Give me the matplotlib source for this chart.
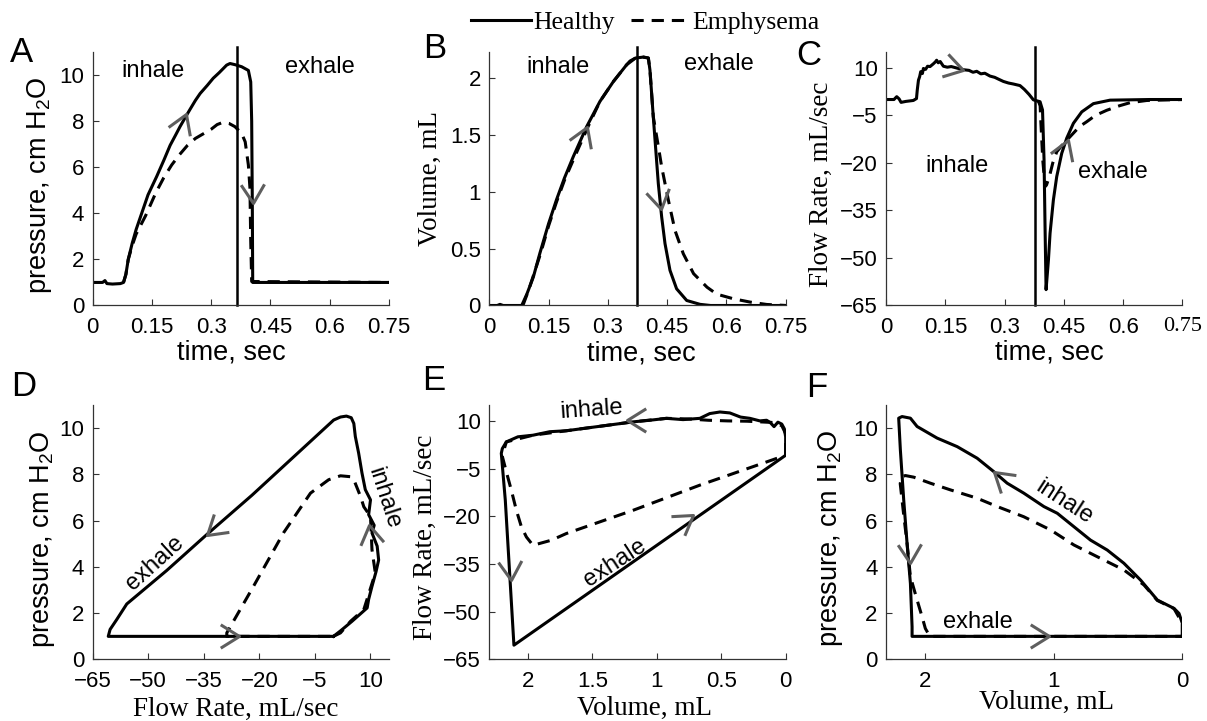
"""
    Figure : pression, volume et debit (sain / emphyseme), 6 panneaux A-F
"""

import matplotlib
matplotlib.use("Agg")
import matplotlib.pyplot as plt
from matplotlib.path import Path
from matplotlib.markers import MarkerStyle
from matplotlib.transforms import Affine2D

plt.rcParams['font.family'] = ['Liberation Sans', 'DejaVu Sans']
plt.rcParams['mathtext.fontset'] = 'custom'
plt.rcParams['mathtext.rm'] = 'Liberation Sans'
plt.rcParams['mathtext.it'] = 'Liberation Sans:italic'
plt.rcParams['mathtext.bf'] = 'Liberation Sans:bold'

SERIF = ['Liberation Serif', 'DejaVu Serif']
GRIS = '#5e5e5e'
AXE = '#333333'
LW = 2.2
TIRETS = (4, 2.6)

# ---------------- Donnees ----------------

# A : pression en fonction du temps
t_a_sain = [0, 0.025, 0.031, 0.036, 0.05, 0.07, 0.078, 0.084, 0.09, 0.10, 0.11, 0.124, 0.14, 0.162,
            0.18, 0.196, 0.21, 0.221, 0.234, 0.246, 0.26, 0.272, 0.29, 0.305, 0.32, 0.339, 0.3475,
            0.36, 0.377, 0.394, 0.40, 0.4024, 0.404, 0.405, 0.75]
p_a_sain = [1.0, 1.0, 1.08, 0.95, 0.93, 0.95, 1.0, 1.35, 2.0, 2.7, 3.3, 4.0, 4.8, 5.6,
            6.3, 6.95, 7.4, 7.76, 8.15, 8.5, 8.9, 9.2, 9.55, 9.86, 10.1, 10.43, 10.5,
            10.45, 10.36, 10.2, 9.7, 8.0, 4.4, 1.0, 1.0]
t_a_emph = [0.078, 0.084, 0.09, 0.10, 0.11, 0.134, 0.16, 0.18, 0.20, 0.22, 0.24, 0.26, 0.28,
            0.30, 0.315, 0.33, 0.345, 0.36, 0.377, 0.386, 0.394, 0.398, 0.400, 0.4024, 0.75]
p_a_emph = [1.0, 1.35, 2.0, 2.6, 3.1, 3.9, 4.9, 5.55, 6.1, 6.55, 6.95, 7.25, 7.45,
            7.65, 7.85, 7.95, 7.9, 7.76, 7.47, 7.1, 6.1, 5.1, 2.8, 1.04, 1.0]

# B : volume en fonction du temps
t_b_sain = [0, 0.02, 0.027, 0.035, 0.082, 0.095, 0.1114, 0.128, 0.15, 0.17, 0.19, 0.2126, 0.2465,
            0.28, 0.314, 0.3477, 0.356, 0.37, 0.39, 0.4025, 0.4066, 0.415, 0.4278, 0.4362, 0.4447,
            0.4573, 0.474, 0.4996, 0.5334, 0.56, 0.75]
v_b_sain = [0, 0, 0.01, 0, 0, 0.1, 0.25, 0.46, 0.72, 0.93, 1.12, 1.31, 1.574,
            1.795, 1.97, 2.118, 2.15, 2.177, 2.185, 2.177, 2.07, 1.66, 1.07, 0.78, 0.544,
            0.309, 0.147, 0.044, 0.01, 0, 0]
t_b_emph = [0.085, 0.1, 0.115, 0.13, 0.15, 0.17, 0.19, 0.215, 0.25, 0.28, 0.314, 0.3477, 0.37,
            0.39, 0.4025, 0.4066, 0.415, 0.4278, 0.4362, 0.453, 0.47, 0.491, 0.517, 0.551,
            0.5755, 0.6177, 0.66, 0.702, 0.75]
v_b_emph = [0, 0.14, 0.3, 0.46, 0.7, 0.91, 1.1, 1.3, 1.574, 1.795, 1.97, 2.118, 2.177,
            2.185, 2.177, 2.07, 1.66, 1.4, 1.22, 0.93, 0.66, 0.455, 0.28, 0.161,
            0.1, 0.059, 0.03, 0.009, 0]

# C : debit en fonction du temps
t_c_sain = [0, 0.02, 0.027, 0.033, 0.038, 0.05, 0.069, 0.077, 0.079, 0.082, 0.085, 0.0877, 0.092,
            0.0945, 0.10, 0.105, 0.1114, 0.12, 0.125, 0.128, 0.132, 0.137, 0.1451, 0.155, 0.165,
            0.18, 0.196, 0.21, 0.22, 0.2295, 0.24, 0.25, 0.263, 0.275, 0.285, 0.297, 0.31, 0.322,
            0.339, 0.35, 0.362, 0.3729, 0.3898, 0.396, 0.3999, 0.4024, 0.405, 0.411, 0.4151,
            0.4235, 0.432, 0.4446, 0.4573, 0.4742, 0.4953, 0.5248, 0.567, 0.6682, 0.75]
q_c_sain = [0, 0, 0.9, 0.2, -0.9, -0.6, -0.3, 0.3, 3.0, 6.1, 7.2, 8.8, 8.2,
            9.8, 9.5, 10.5, 10.4, 11.3, 11.9, 12.4, 11.6, 12.0, 10.5, 10.2, 10.4,
            9.9, 9.4, 9.2, 8.6, 8.9, 8.1, 8.3, 7.4, 7.0, 6.4, 5.7, 5.2, 4.9,
            4.4, 3.2, 1.6, -0.1, -0.7, -3.3, -19.1, -40.1, -60.0, -50.6, -42.2,
            -31.7, -24.3, -17.0, -12.2, -7.5, -3.9, -1.3, -0.2, 0, 0]
t_c_emph = [0.385, 0.39, 0.3916, 0.3966, 0.4024, 0.406, 0.4134, 0.422, 0.432, 0.445, 0.46, 0.475,
            0.49, 0.508, 0.53, 0.5585, 0.59, 0.6175, 0.66, 0.75]
q_c_emph = [-0.3, -2.0, -6.5, -19.0, -27.5, -27.0, -24.3, -20.0, -16.5, -14.5, -12.5, -10.5,
            -8.5, -7.0, -5.0, -3.4, -2.0, -1.0, -0.3, 0]

# D : pression en fonction du debit (boucle)
q_d_sain = [0.0, 2.0, 5.0, 9.1, 9.5, 10.4, 11.5, 12.2, 11.8, 10.4, 11.0, 9.5, 10.0, 8.6, 7.7, 6.8,
            5.9, 5.5, 4.8, 3.5, 1.9, 0.06, -10.8, -22.0, -34.2, -45.0, -55.8, -58.5, -60.3, -60.8,
            -30.0, -0.4, 0.0]
p_d_sain = [1.0, 1.25, 1.65, 2.23, 2.6, 3.16, 3.8, 4.3, 4.9, 5.47, 5.8, 6.26, 6.9, 7.34, 8.06, 8.92,
            9.64, 10.2, 10.45, 10.52, 10.48, 10.35, 8.75, 7.1, 5.4, 3.85, 2.4, 1.73, 1.3, 1.0,
            1.0, 1.0, 1.0]
q_d_emph = [0.0, 1.9, 4.6, 8.2, 11.3, 10.4, 10.0, 8.2, 7.3, 5.5, 4.6, 1.9, -1.3, -6.2, -13.5,
            -21.6, -28.8, -28.8, 0.0]
p_d_emph = [1.0, 1.15, 1.65, 2.16, 3.74, 4.75, 6.18, 6.6, 7.05, 7.77, 7.9, 7.94, 7.77, 7.19, 5.47,
            3.16, 1.15, 1.0, 1.0]

# E : debit en fonction du volume (boucle)
v_e_sain = [0, 0, 0.01, 0.03, 0.06, 0.09, 0.12, 0.148, 0.2, 0.277, 0.35, 0.433, 0.51, 0.589, 0.666,
            0.796, 0.925, 1.054, 1.184, 1.313, 1.443, 1.573, 1.702, 1.831, 1.961, 2.078, 2.168,
            2.199, 2.207, 2.176, 2.142, 2.109, 0]
q_e_sain = [-0.8, 5.0, 7.5, 9.0, 9.6, 8.2, 9.5, 10.2, 10.0, 10.8, 11.2, 12.5, 12.8, 12.3, 10.8,
            10.4, 10.8, 10.2, 9.7, 9.0, 8.3, 7.6, 6.9, 6.6, 5.5, 5.0, 3.4,
            1.3, -0.2, -14.9, -38.0, -60.5, -0.8]
v_e_emph = [0, 0, 0.03, 0.1, 0.2, 0.3, 0.45, 0.6, 0.75, 0.925, 1.184, 1.443, 1.702, 1.961, 2.168,
            2.2, 2.168, 2.129, 2.09, 2.051, 2.012, 1.961, 1.818, 1.702, 1.184, 0.666, 0.148, 0]
q_e_emph = [-0.8, 6.0, 8.5, 9.5, 9.7, 9.9, 10.0, 10.2, 10.6, 10.8, 9.7, 8.3, 6.9, 5.5, 3.4,
            -1.0, -6.0, -11.8, -18.1, -23.3, -26.5, -29.1, -27.5, -25.4, -18.1, -10.2, -2.9, -0.8]

# F : pression en fonction du volume (boucle)
v_f_sain = [0, 0, 0.026, 0.065, 0.194, 0.324, 0.454, 0.583, 0.713, 0.971, 1.075, 1.231, 1.36,
            1.464, 1.593, 1.748, 1.904, 2.059, 2.111, 2.176, 2.202, 2.189, 2.163, 2.137, 2.111,
            2.098, 2.098, 0]
p_f_sain = [1.0, 1.56, 1.99, 2.21, 2.57, 3.43, 4.16, 4.73, 5.16, 6.32, 6.61, 7.19, 7.62,
            8.12, 8.7, 9.2, 9.57, 10.07, 10.43, 10.5, 10.43, 9.06, 6.9, 5.02, 3.29,
            1.41, 1.0, 1.0]
v_f_emph = [0, 0, 0.065, 0.194, 0.298, 0.454, 0.66, 0.842, 1.023, 1.231, 1.437, 1.593, 1.8, 1.956,
            2.085, 2.15, 2.18, 2.19, 2.176, 2.163, 2.137, 2.111, 2.059, 2.02, 1.995, 1.96, 0]
p_f_emph = [1.0, 1.56, 2.2, 2.55, 3.22, 3.87, 4.44, 4.95, 5.6, 6.17, 6.61, 6.97, 7.33, 7.62,
            7.88, 7.95, 7.9, 7.6, 6.9, 6.25, 5.02, 3.58, 2.57, 1.84, 1.34, 1.0, 1.0]

# fin de l'inspiration (trait vertical) pour A, B, C
t_fin_insp = [0.3645, 0.373, 0.377]

# graduations
ticks_temps = [0, 0.15, 0.3, 0.45, 0.6, 0.75]
labels_temps = ['0', '0.15', '0.3', '0.45', '0.6', '0.75']
ticks_pression = [0, 2, 4, 6, 8, 10]
ticks_volume_b = [0, 0.5, 1, 1.5, 2]
labels_volume_b = ['0', '0.5', '1', '1.5', '2']
ticks_debit = [-65, -50, -35, -20, -5, 10]
ticks_volume_e = [2, 1.5, 1, 0.5, 0]
labels_volume_e = ['2', '1.5', '1', '0.5', '0']
ticks_volume_f = [2, 1, 0]

# fleches grises : (x, y, angle a l'ecran en degres)
fleches = {
    'A': [(0.236, 8.3, 68), (0.405, 4.44, -88)],
    'B': [(0.2465, 1.574, 68), (0.434, 0.853, -79)],
    'C': [(0.1957, 9.3, -15), (0.4615, -12.8, 69)],
    'D': [(-34.2, 5.4, -140), (-25.6, 1.0, 0), (9.5, 5.83, 99)],
    'E': [(1.235, 10.2, 180), (2.129, -40.1, -86), (0.718, -19.5, 35)],
    'F': [(1.464, 8.12, 140), (2.117, 4.18, -88), (1.037, 1.0, 0)],
}

# textes inhale / exhale : (x, y, texte, rotation)
textes = {
    'A': [(0.153, 10.17, 'inhale', 0), (0.575, 10.36, 'exhale', 0)],
    'B': [(0.173, 2.094, 'inhale', 0), (0.581, 2.124, 'exhale', 0)],
    'C': [(0.18, -20.9, 'inhale', 0), (0.573, -22.8, 'exhale', 0)],
    'D': [(-48.2, 4.17, 'exhale', 42), (13.6, 6.98, 'inhale', -72)],
    'E': [(1.505, 13.4, 'inhale', 4), (1.326, -34.8, 'exhale', 33)],
    'F': [(0.915, 6.82, 'inhale', -33), (1.589, 1.6, 'exhale', 0)],
}

CHEVRON = Path([(-0.85, 0.53), (0, 0), (-0.85, -0.53)], [Path.MOVETO, Path.LINETO, Path.LINETO])


def fleche(ax, x, y, angle):
    m = MarkerStyle(CHEVRON, fillstyle='none', transform=Affine2D().rotate_deg(angle))
    ax.plot([x], [y], ls='none', marker=m, ms=27, mec=GRIS, mew=2.2, zorder=6, clip_on=False)


def style_axe(ax, xlim, ylim, xticks, yticks, xlabels=None, ylabels=None):
    ax.set_xlim(xlim)
    ax.set_ylim(ylim)
    ax.set_xticks(xticks)
    ax.set_yticks(yticks)
    if xlabels is not None:
        ax.set_xticklabels(xlabels)
    if ylabels is not None:
        ax.set_yticklabels(ylabels)
    for s in ['top', 'right']:
        ax.spines[s].set_visible(False)
    for s in ['left', 'bottom']:
        ax.spines[s].set_linewidth(0.9)
        ax.spines[s].set_color(AXE)
    ax.tick_params(direction='in', length=4, width=0.8, color=AXE, labelsize=16, pad=6)
    ax.tick_params(axis='x', pad=8)
    ax.patch.set_alpha(0)


def label_x(ax, texte, x, y, serif=False):
    ax.set_xlabel(texte, fontsize=19.5, family=SERIF if serif else None)
    ax.xaxis.set_label_coords(x, y)
    ax.xaxis.label.set_va('center')


def label_y(ax, texte, x, y, serif=False):
    ax.set_ylabel(texte, fontsize=19.5, family=SERIF if serif else None)
    ax.yaxis.set_label_coords(x, y)
    ax.yaxis.label.set_va('center')


fig = plt.figure(figsize=(12.07, 7.21), dpi=100)

cols = [0.0768, 0.4054, 0.7341]
larg = 0.2455
axA = fig.add_axes([cols[0], 0.5763, larg, 0.3516])
axB = fig.add_axes([cols[1], 0.5763, larg, 0.3516])
axC = fig.add_axes([cols[2], 0.5763, larg, 0.3516])
axD = fig.add_axes([cols[0], 0.0853, larg, 0.353])
axE = fig.add_axes([cols[1], 0.0853, larg, 0.353])
axF = fig.add_axes([cols[2], 0.0853, larg, 0.353])
axes = {'A': axA, 'B': axB, 'C': axC, 'D': axD, 'E': axE, 'F': axF}

# Courbes
l_sain, = axA.plot(t_a_sain, p_a_sain, color='k', lw=LW, label='Healthy')
l_emph, = axA.plot(t_a_emph, p_a_emph, color='k', lw=LW, dashes=TIRETS, label='Emphysema')
axB.plot(t_b_sain, v_b_sain, color='k', lw=LW)
axB.plot(t_b_emph, v_b_emph, color='k', lw=LW, dashes=TIRETS)
axC.plot(t_c_sain, q_c_sain, color='k', lw=LW)
axC.plot(t_c_emph, q_c_emph, color='k', lw=LW, dashes=TIRETS)
axD.plot(q_d_sain, p_d_sain, color='k', lw=LW)
axD.plot(q_d_emph, p_d_emph, color='k', lw=LW, dashes=TIRETS)
axE.plot(v_e_sain, q_e_sain, color='k', lw=LW)
axE.plot(v_e_emph, q_e_emph, color='k', lw=LW, dashes=TIRETS)
axF.plot(v_f_sain, p_f_sain, color='k', lw=LW)
axF.plot(v_f_emph, p_f_emph, color='k', lw=LW, dashes=TIRETS)

# Trait vertical de fin d'inspiration
for ax, tv in zip([axA, axB, axC], t_fin_insp):
    ax.axvline(tv, ymin=0, ymax=1.02, color='k', lw=1.8, clip_on=False)

# Axes
style_axe(axA, (0, 0.75), (0, 11), ticks_temps, ticks_pression, labels_temps)
style_axe(axB, (0, 0.75), (0, 2.23), ticks_temps, ticks_volume_b, labels_temps, labels_volume_b)
style_axe(axC, (0, 0.75), (-65, 15), ticks_temps, ticks_debit, labels_temps)
style_axe(axD, (-65, 15), (0, 11), ticks_debit, ticks_pression)
style_axe(axE, (2.3, 0), (-65, 15), ticks_volume_e, ticks_debit, labels_volume_e)
style_axe(axF, (2.3, 0), (0, 11), ticks_volume_f, ticks_pression)

# le dernier label de C est en serif sur l'original
axC.xaxis.get_major_ticks()[-1].label1.set_fontfamily(SERIF)

label_x(axA, 'time, sec', 0.468, -0.187)
label_x(axB, 'time, sec', 0.514, -0.19)
label_x(axC, 'time, sec', 0.551, -0.187)
label_x(axD, 'Flow Rate, mL/sec', 0.483, -0.196, serif=True)
label_x(axE, 'Volume, mL', 0.523, -0.193, serif=True)
label_x(axF, 'Volume, mL', 0.543, -0.167, serif=True)

label_y(axA, 'pressure, cm H$_2$O', -0.181, 0.472)
label_y(axB, 'Volume, mL', -0.198, 0.5, serif=True)
label_y(axC, 'Flow Rate, mL/sec', -0.217, 0.478, serif=True)
label_y(axD, 'pressure, cm H$_2$O', -0.169, 0.47)
label_y(axE, 'Flow Rate, mL/sec', -0.217, 0.48, serif=True)
label_y(axF, 'pressure, cm H$_2$O', -0.189, 0.476)

for nom, ax in axes.items():
    for (x, y, ang) in fleches[nom]:
        fleche(ax, x, y, ang)
    for (x, y, txt, rot) in textes[nom]:
        ax.text(x, y, txt, fontsize=17, ha='center', va='center', rotation=rot,
                rotation_mode='anchor', zorder=7)

# Lettres des panneaux
lettres = [('A', 0.018, 0.9265), ('B', 0.3604, 0.9334), ('C', 0.6698, 0.9237),
           ('D', 0.0199, 0.464), ('E', 0.3596, 0.4716), ('F', 0.6769, 0.4619)]
for txt, x, y in lettres:
    fig.text(x, y, txt, fontsize=25, ha='center', va='center')

fig.legend([l_sain, l_emph], ['Healthy', 'Emphysema'], loc='center', bbox_to_anchor=(0.535, 0.969),
           ncol=2, frameon=False, prop={'family': SERIF, 'size': 18.5}, handlelength=2.3,
           handletextpad=0.12, columnspacing=0.6, borderpad=0, borderaxespad=0)

fig.savefig('out.png', dpi=100)
